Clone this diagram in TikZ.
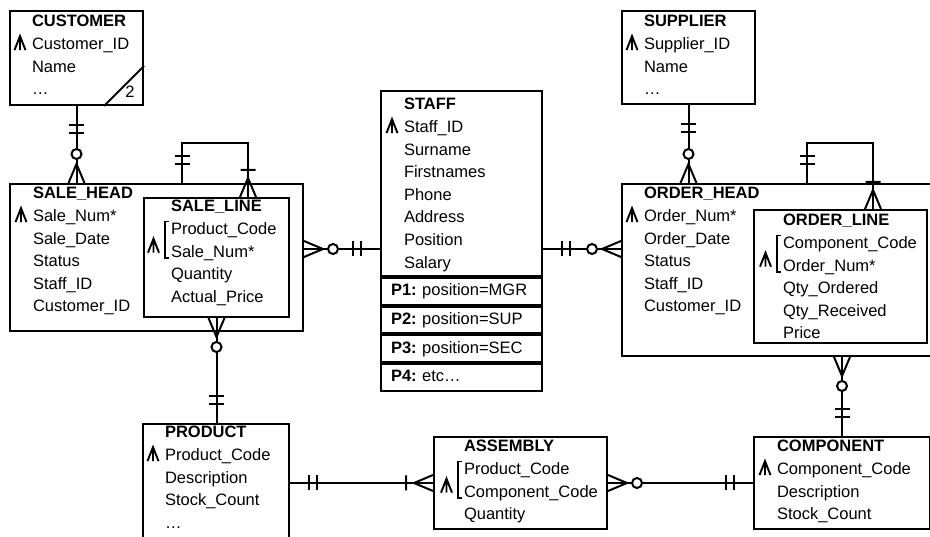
\documentclass[tikz,border=0pt]{standalone}
\usepackage{fontspec}
\setmainfont{Liberation Sans}
\usetikzlibrary{positioning,calc}

\tikzset{
  entity/.style={draw, anchor=north west, inner sep=0pt},
  fields/.style={anchor=base west, inner sep=0pt, text width=170pt, align=left},
  partrow/.style={draw, inner xsep=10pt, inner ysep=0pt, text width=141pt, align=left,
    minimum height=26.75pt, text height=12pt, text depth=3.5pt},
  link/.style={line width=2pt},
  % cardinality marks, drawn along +x away from the box edge
  one/.pic={\draw (19,-7.5) -- (19,7.5) (27,-7.5) -- (27,7.5);},
  omany/.pic={\draw (0,-8) -- (19,0) -- (0,8) (27,-7.5) -- (27,7.5);},
  zmany/.pic={\draw (0,-8) -- (19,0) -- (0,8);
    \draw[fill=white] (29,0) circle[radius=5];},
  % identifier marks, origin at the start of the text and its baseline
  pkey/.pic={\draw[line width=1.9pt] (-16.5,0.5) -- (-11,-13.5) -- (-5.5,0.5) (-11,-13.5) -- (-11,0.5);},
  ckey/.pic={\draw[line width=1.9pt] (-22,-4.5) -- (-16.5,-18.5) -- (-11,-4.5) (-16.5,-18.5) -- (-16.5,-4.5);
    \draw[line width=1.6pt] (-1,-35.6) -- (-5,-35.6) -- (-5,1) -- (-1,1);}
}

\begin{document}
\begin{tikzpicture}[x=1pt, y=-1pt, line width=2pt, font=\fontsize{16.5}{22.6}\selectfont\frenchspacing]
  \useasboundingbox (0,0) rectangle (930,537);
  \clip (0,0) rectangle (930,537);

  % --- entity boxes
  \node[entity, minimum width=133pt, minimum height=94pt] (customer) at (9,10) {};
  \node[entity, minimum width=133pt, minimum height=93pt] (supplier) at (621,10) {};
  \node[entity, minimum width=293pt, minimum height=147pt] (salehead) at (9,183) {};
  \node[entity, minimum width=145pt, minimum height=119pt] (saleline) at (143,197) {};
  \node[entity, minimum width=161pt, minimum height=185pt] (staff) at (380,90) {};
  \node[entity, minimum width=311pt, minimum height=172pt] (orderhead) at (621,183) {};
  \node[entity, minimum width=173pt, minimum height=133pt] (orderline) at (753,209) {};
  \node[entity, minimum width=146pt, minimum height=120pt] (product) at (142,423) {};
  \node[entity, minimum width=173pt, minimum height=92pt] (assembly) at (433,436) {};
  \node[entity, minimum width=176pt, minimum height=92pt] (component) at (753,436) {};

  % staff partitions
  \node[partrow, below=0pt of staff] (staff-p1) {\textbf{P1:} position=MGR};
  \node[partrow, below=0pt of staff-p1] (staff-p2) {\textbf{P2:} position=SUP};
  \node[partrow, below=0pt of staff-p2] (staff-p3) {\textbf{P3:} position=SEC};
  \node[partrow, below=0pt of staff-p3] (staff-p4) {\textbf{P4:} etc…};

  % --- attribute lists
  \node[fields] (customer-t) at ([shift={(22,17)}]customer.north west)
    {\textbf{CUSTOMER}\\Customer\_ID\\Name\\…};
  \node[fields] (supplier-t) at ([shift={(22,17)}]supplier.north west)
    {\textbf{SUPPLIER}\\Supplier\_ID\\Name\\…};
  \node[fields] (salehead-t) at ([shift={(23,16)}]salehead.north west)
    {\textbf{SALE\_HEAD}\\Sale\_Num*\\Sale\_Date\\Status\\Staff\_ID\\Customer\_ID};
  \node[fields] (saleline-t) at ([shift={(27,15)}]saleline.north west)
    {\textbf{SALE\_LINE}\\Product\_Code\\Sale\_Num*\\Quantity\\Actual\_Price};
  \node[fields] (staff-t) at ([shift={(23,20)}]staff.north west)
    {\textbf{STAFF}\\Staff\_ID\\Surname\\Firstnames\\Phone\\Address\\Position\\Salary};
  \node[fields] (orderhead-t) at ([shift={(22,16)}]orderhead.north west)
    {\textbf{ORDER\_HEAD}\\Order\_Num*\\Order\_Date\\Status\\Staff\_ID\\Customer\_ID};
  \node[fields] (orderline-t) at ([shift={(29,17)}]orderline.north west)
    {\textbf{ORDER\_LINE}\\Component\_Code\\Order\_Num*\\Qty\_Ordered\\Qty\_Received\\Price};
  \node[fields] (product-t) at ([shift={(22,15)}]product.north west)
    {\textbf{PRODUCT}\\Product\_Code\\Description\\Stock\_Count\\…};
  \node[fields] (assembly-t) at ([shift={(30,16)}]assembly.north west)
    {\textbf{ASSEMBLY}\\Product\_Code\\Component\_Code\\Quantity};
  \node[fields] (component-t) at ([shift={(23,16)}]component.north west)
    {\textbf{COMPONENT}\\Component\_Code\\Description\\Stock\_Count};

  % keys
  \pic at ([shift={(0,22.6)}]customer-t.base west) {pkey};
  \pic at ([shift={(0,22.6)}]supplier-t.base west) {pkey};
  \pic at ([shift={(0,22.6)}]salehead-t.base west) {pkey};
  \pic at ([shift={(0,22.6)}]staff-t.base west) {pkey};
  \pic at ([shift={(0,22.6)}]orderhead-t.base west) {pkey};
  \pic at ([shift={(0,22.6)}]product-t.base west) {pkey};
  \pic at ([shift={(0,22.6)}]component-t.base west) {pkey};
  \pic at ([shift={(0,45.2)}]saleline-t.base west) {ckey};
  \pic at ([shift={(0,45.2)}]orderline-t.base west) {ckey};
  \pic at ([shift={(0,45.2)}]assembly-t.base west) {ckey};

  % customer subtype corner
  \draw ([xshift=-40pt]customer.south east) -- ([yshift=40pt]customer.south east);
  \node (customer-n) at ([shift={(-14,-14)}]customer.south east) {2};

  % --- relationships
  \coordinate (staffrow) at ([shift={(0,65.5)}]staff.west);

  \draw[link] (customer.south) -- (customer.south |- salehead.north);
  \pic[rotate=-90] at (customer.south) {one};
  \pic[rotate=90] at (customer.south |- salehead.north) {zmany};

  \draw[link] (supplier.south) -- (supplier.south |- orderhead.north);
  \pic[rotate=-90] at (supplier.south) {one};
  \pic[rotate=90] at (supplier.south |- orderhead.north) {zmany};

  \draw[link] (salehead.east |- staffrow) -- (staffrow);
  \pic at (salehead.east |- staffrow) {zmany};
  \pic[rotate=180] at (staffrow) {one};

  \draw[link] (staff.east |- staffrow) -- (orderhead.west |- staffrow);
  \pic at (staff.east |- staffrow) {one};
  \pic[rotate=180] at (orderhead.west |- staffrow) {zmany};

  \draw[link] (saleline.south) -- (saleline.south |- product.north);
  \pic[rotate=-90] at (saleline.south) {zmany};
  \pic[rotate=90] at (saleline.south |- product.north) {one};

  \draw[link] (component.north |- orderhead.south) -- (component.north);
  \pic[rotate=-90] at (component.north |- orderhead.south) {zmany};
  \pic[rotate=90] at (component.north) {one};

  \draw[link] (product.east |- assembly.west) -- (assembly.west);
  \pic at (product.east |- assembly.west) {one};
  \pic[rotate=180] at (assembly.west) {omany};

  \draw[link] (assembly.east) -- (component.west);
  \pic at (assembly.east) {zmany};
  \pic[rotate=180] at (component.west) {one};

  % recursive links on the line items
  \draw[link] ([xshift=39pt]saleline.north west |- salehead.north) -- ++(0,-40)
    -| ([xshift=105pt]saleline.north west);
  \pic[rotate=90] at ([xshift=39pt]saleline.north west |- salehead.north) {one};
  \pic[rotate=90] at ([xshift=105pt]saleline.north west) {omany};

  \draw[link] ([xshift=54pt]orderline.north west |- orderhead.north) -- ++(0,-40)
    -| ([xshift=120pt]orderline.north west);
  \pic[rotate=90] at ([xshift=54pt]orderline.north west |- orderhead.north) {one};
  \pic[rotate=90] at ([xshift=120pt]orderline.north west) {omany};
\end{tikzpicture}
\end{document}
